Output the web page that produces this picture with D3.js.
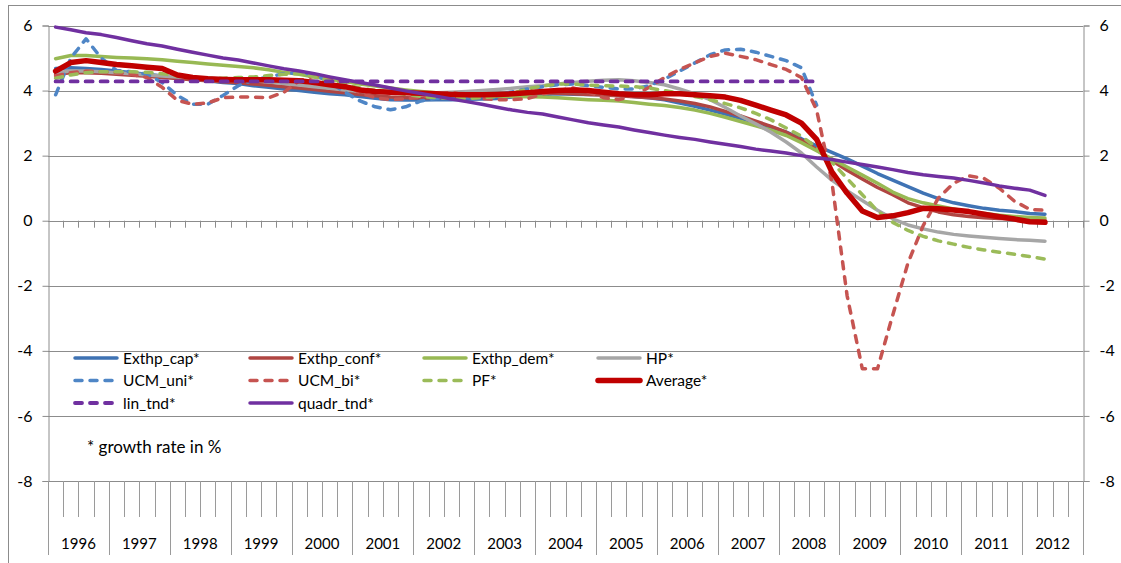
<!DOCTYPE html>
<html>
<head>
<meta charset="utf-8">
<script src="https://cdn.jsdelivr.net/npm/d3@7"></script>
<style>
  html, body { margin: 0; padding: 0; background: #fff; }
  svg { display: block; font-family: Lato, "Liberation Sans", sans-serif; }
</style>
</head>
<body>
<svg id="chart" width="1121" height="563"></svg>
<script>
// ---- data ----
const years = ["1996","1997","1998","1999","2000","2001","2002","2003","2004","2005","2006","2007","2008","2009","2010","2011","2012"];
const quarterNames = ["Q1","Q2","Q3","Q4"];
const yTicks = [6, 4, 2, 0, -2, -4, -6, -8];

const exthpCap = [4.68,4.70,4.68,4.65,4.60,4.55,4.50,4.45,4.40,4.35,4.30,4.25,4.22,4.15,4.10,4.05,
  4.00,3.95,3.90,3.87,3.82,3.76,3.72,3.71,3.71,3.72,3.72,3.73,3.74,3.76,3.80,3.85,
  3.88,3.90,3.89,3.88,3.87,3.85,3.82,3.78,3.72,3.62,3.52,3.40,3.28,3.15,3.02,2.88,
  2.72,2.52,2.30,2.10,1.90,1.68,1.45,1.25,1.05,0.85,0.68,0.55,0.46,0.38,0.32,0.28,0.22,0.20];
const exthpConf = [4.50,4.55,4.55,4.53,4.50,4.47,4.44,4.40,4.37,4.33,4.30,4.27,4.24,4.20,4.16,4.12,
  4.08,4.03,3.98,3.93,3.88,3.84,3.80,3.78,3.77,3.78,3.80,3.82,3.85,3.88,3.90,3.92,
  3.93,3.92,3.90,3.88,3.86,3.84,3.81,3.78,3.74,3.68,3.60,3.50,3.36,3.22,3.06,2.90,
  2.72,2.48,2.18,1.85,1.55,1.28,1.02,0.80,0.55,0.40,0.27,0.18,0.13,0.09,0.07,0.05,0.03,0.02];
const exthpDem = [4.98,5.08,5.08,5.05,5.02,5.00,4.98,4.95,4.90,4.86,4.82,4.78,4.74,4.70,4.64,4.56,
  4.50,4.42,4.35,4.28,4.20,4.14,4.08,4.02,3.97,3.93,3.90,3.87,3.85,3.83,3.82,3.81,
  3.80,3.78,3.75,3.72,3.70,3.68,3.63,3.58,3.54,3.48,3.40,3.30,3.18,3.05,2.92,2.78,
  2.62,2.40,2.15,1.90,1.65,1.40,1.15,0.88,0.68,0.55,0.45,0.36,0.28,0.22,0.17,0.13,0.10,0.08];
const hp = [4.55,4.60,4.60,4.58,4.55,4.52,4.48,4.45,4.42,4.40,4.38,4.36,4.33,4.30,4.26,4.22,
  4.17,4.12,4.07,4.02,3.98,3.95,3.93,3.92,3.92,3.93,3.95,3.97,4.00,4.03,4.07,4.12,
  4.15,4.20,4.25,4.29,4.32,4.33,4.30,4.25,4.18,4.05,3.90,3.72,3.48,3.22,2.98,2.72,
  2.42,2.08,1.65,1.25,0.92,0.62,0.32,0.06,-0.13,-0.25,-0.35,-0.42,-0.47,-0.51,-0.55,-0.58,-0.60,-0.63];
const ucmUni = [3.87,5.00,5.59,5.00,4.62,4.58,4.50,4.25,3.85,3.58,3.58,3.85,4.15,4.33,4.42,4.52,
  4.55,4.50,4.25,3.95,3.68,3.50,3.41,3.50,3.68,3.76,3.78,3.80,3.83,3.88,3.96,4.05,
  4.12,4.18,4.20,4.15,4.10,4.05,4.05,4.15,4.35,4.60,4.85,5.10,5.25,5.27,5.18,5.05,
  4.92,4.70,3.55];
const ucmBi = [4.45,4.55,4.60,4.58,4.55,4.50,4.40,4.10,3.70,3.58,3.62,3.78,3.80,3.80,3.78,3.95,
  4.30,4.45,4.40,4.20,3.93,3.78,3.72,3.75,3.80,3.88,3.95,3.85,3.75,3.72,3.72,3.75,
  3.90,4.00,4.08,3.95,3.78,3.72,3.85,4.10,4.40,4.65,4.85,5.05,5.15,5.05,4.95,4.80,
  4.65,4.40,3.40,1.20,-2.30,-4.55,-4.55,-2.90,-1.30,-0.15,0.70,1.15,1.38,1.30,1.00,0.60,0.35,0.32];
const pf = [4.38,4.48,4.55,4.58,4.58,4.58,4.56,4.52,4.45,4.40,4.38,4.38,4.40,4.42,4.46,4.50,
  4.52,4.42,4.30,4.18,4.08,4.00,3.95,3.88,3.82,3.78,3.76,3.76,3.78,3.82,3.92,4.05,
  4.14,4.20,4.20,4.17,4.15,4.14,4.12,4.08,4.00,3.92,3.82,3.72,3.60,3.47,3.30,3.10,
  2.85,2.60,2.25,1.80,1.30,0.80,0.30,-0.05,-0.30,-0.48,-0.62,-0.72,-0.82,-0.90,-0.97,-1.03,-1.10,-1.18];
const average = [4.60,4.86,4.92,4.86,4.80,4.76,4.72,4.68,4.48,4.40,4.36,4.34,4.33,4.33,4.33,4.32,
  4.30,4.25,4.18,4.12,4.02,3.97,3.95,3.93,3.92,3.90,3.88,3.87,3.87,3.88,3.90,3.93,
  3.97,4.00,4.02,4.00,3.95,3.90,3.87,3.87,3.90,3.90,3.87,3.84,3.80,3.70,3.55,3.40,
  3.25,3.00,2.50,1.50,0.85,0.30,0.10,0.15,0.25,0.38,0.37,0.33,0.28,0.20,0.12,0.05,-0.03,-0.05];
const linTnd = [4.28,4.28,4.28,4.28,4.28,4.28,4.28,4.28,4.28,4.28,4.28,4.28,4.28,4.28,4.28,4.28,
  4.28,4.28,4.28,4.28,4.28,4.28,4.28,4.28,4.28,4.28,4.28,4.28,4.28,4.28,4.28,4.28,
  4.28,4.28,4.28,4.28,4.28,4.28,4.28,4.28,4.28,4.28,4.28,4.28,4.28,4.28,4.28,4.28,
  4.28,4.28,4.28];
const quadrTnd = [5.95,5.87,5.78,5.72,5.63,5.53,5.44,5.37,5.27,5.18,5.09,5.00,4.94,4.85,4.76,4.67,
  4.60,4.52,4.42,4.33,4.25,4.17,4.08,3.99,3.91,3.83,3.74,3.66,3.58,3.49,3.40,3.33,
  3.28,3.19,3.10,3.01,2.94,2.88,2.79,2.71,2.63,2.56,2.50,2.42,2.35,2.28,2.20,2.14,
  2.08,2.00,1.93,1.88,1.80,1.73,1.65,1.57,1.48,1.41,1.36,1.31,1.24,1.16,1.07,1.00,0.94,0.78];

const seriesNames = ["Exthp_cap*","Exthp_conf*","Exthp_dem*","HP*","UCM_uni*","UCM_bi*","PF*","Average*","lin_tnd*","quadr_tnd*"];
const seriesValues = [exthpCap, exthpConf, exthpDem, hp, ucmUni, ucmBi, pf, average, linTnd, quadrTnd];
const footnote = "* growth rate in %";

(function () {
// ---- styles (kept separate from data) ----
const styles = [
  {color:"#3F73B4", width:3.5, dash:null},
  {color:"#B04542", width:3.5, dash:null},
  {color:"#98B954", width:3.5, dash:null},
  {color:"#A6A6A6", width:3.5, dash:null},
  {color:"#4F86C6", width:3.5, dash:"7,8"},
  {color:"#C65451", width:3.5, dash:"7,8"},
  {color:"#9BBB59", width:3.5, dash:"7,8"},
  {color:"#C00000", width:5.5, dash:null},
  {color:"#7030A0", width:3.8, dash:"7,8"},
  {color:"#7030A0", width:3.5, dash:null}
];

const quarters = years.flatMap(yr => quarterNames.map(q => yr + q));

const svg = d3.select("#chart");
svg.append("rect").attr("width",1121).attr("height",563).attr("fill","#fff");
svg.append("rect").attr("x",8.5).attr("y",5.5).attr("width",1300).attr("height",700)
  .attr("fill","none").attr("stroke","#8c8c8c").attr("stroke-width",1);

const pLeft = 48, pRight = 1083, pTop = 25.5, pBottom = 481;
const x = d3.scaleBand().domain(quarters).range([pLeft, pRight]).padding(0);
const y = d3.scaleLinear().domain([-8, 6]).range([pBottom, pTop]);
const gridColor = "#8c8c8c";

svg.append("g").selectAll("line").data(yTicks).join("line")
  .attr("x1", pLeft).attr("x2", pRight)
  .attr("y1", d => Math.round(y(d)) + 0.5).attr("y2", d => Math.round(y(d)) + 0.5)
  .attr("stroke", gridColor).attr("stroke-width", 1);

const fmt = d => String(d);
const yl = svg.append("g").attr("transform", `translate(${pLeft + 0.5},0)`)
  .call(d3.axisLeft(y).tickValues(yTicks).tickSize(6).tickPadding(8).tickFormat(fmt));
const yr = svg.append("g").attr("transform", `translate(${pRight + 0.5},0)`)
  .call(d3.axisRight(y).tickValues(yTicks).tickSize(6).tickPadding(10).tickFormat(fmt));
[yl, yr].forEach(g => {
  g.select(".domain").attr("stroke", gridColor);
  g.selectAll(".tick line").attr("stroke", gridColor);
  g.selectAll(".tick text").attr("fill", "#000").style("font-size", "16px")
    .style("font-family", "Lato, sans-serif");
});
yl.selectAll(".tick text").attr("dx", "-2");

const boundaries = quarters.slice(1).map(q => x(q)).concat([pRight]);
svg.append("g").selectAll("line").data(boundaries).join("line")
  .attr("x1", d => Math.round(d) + 0.5).attr("x2", d => Math.round(d) + 0.5)
  .attr("y1", y(0)).attr("y2", y(0) + 7)
  .attr("stroke", gridColor).attr("stroke-width", 1);

svg.append("g").selectAll("line").data(quarters.filter((q, i) => i % 4 !== 0)).join("line")
  .attr("x1", d => Math.round(x(d)) + 0.5).attr("x2", d => Math.round(x(d)) + 0.5)
  .attr("y1", pBottom).attr("y2", pBottom + 36)
  .attr("stroke", "#9a9a9a").attr("stroke-width", 1);
const yearStarts = years.map(v => x(v + "Q1")).concat([pRight]);
svg.append("g").selectAll("line").data(yearStarts).join("line")
  .attr("x1", d => Math.round(d) + 0.5).attr("x2", d => Math.round(d) + 0.5)
  .attr("y1", pBottom).attr("y2", pBottom + 74)
  .attr("stroke", "#9a9a9a").attr("stroke-width", 1);
svg.append("g").selectAll("text").data(years).join("text")
  .attr("x", v => (x(v + "Q1") + x(v + "Q4") + x.bandwidth()) / 2)
  .attr("y", 549)
  .attr("text-anchor", "middle")
  .style("font-size", "15px")
  .text(d => d);

const line = d3.line()
  .defined(d => d != null)
  .x((d, i) => x(quarters[i]) + x.bandwidth() / 2)
  .y(d => y(d));

const lines = svg.append("g");
seriesValues.forEach((vals, k) => {
  const s = styles[k];
  lines.append("path")
    .attr("d", line(vals))
    .attr("fill", "none")
    .attr("stroke", s.color)
    .attr("stroke-width", s.width)
    .attr("stroke-linejoin", "round")
    .attr("stroke-linecap", "round")
    .attr("stroke-dasharray", s.dash);
});

const legCols = [75, 250, 424, 598];
const legRows = [358, 380.5, 403];
const leg = svg.append("g");
seriesNames.forEach((name, k) => {
  const cx = legCols[k % 4], cy = legRows[Math.floor(k / 4)];
  const s = styles[k];
  leg.append("line")
    .attr("x1", cx).attr("x2", cx + 42).attr("y1", cy).attr("y2", cy)
    .attr("stroke", s.color).attr("stroke-width", s.width)
    .attr("stroke-linecap", "round")
    .attr("stroke-dasharray", s.dash);
  leg.append("text")
    .attr("x", cx + 48).attr("y", cy + 5.5)
    .style("font-size", "15.5px")
    .text(name);
});

svg.append("text").attr("x", 87).attr("y", 453)
  .style("font-size", "17px").text(footnote);
})();
</script>
</body>
</html>
